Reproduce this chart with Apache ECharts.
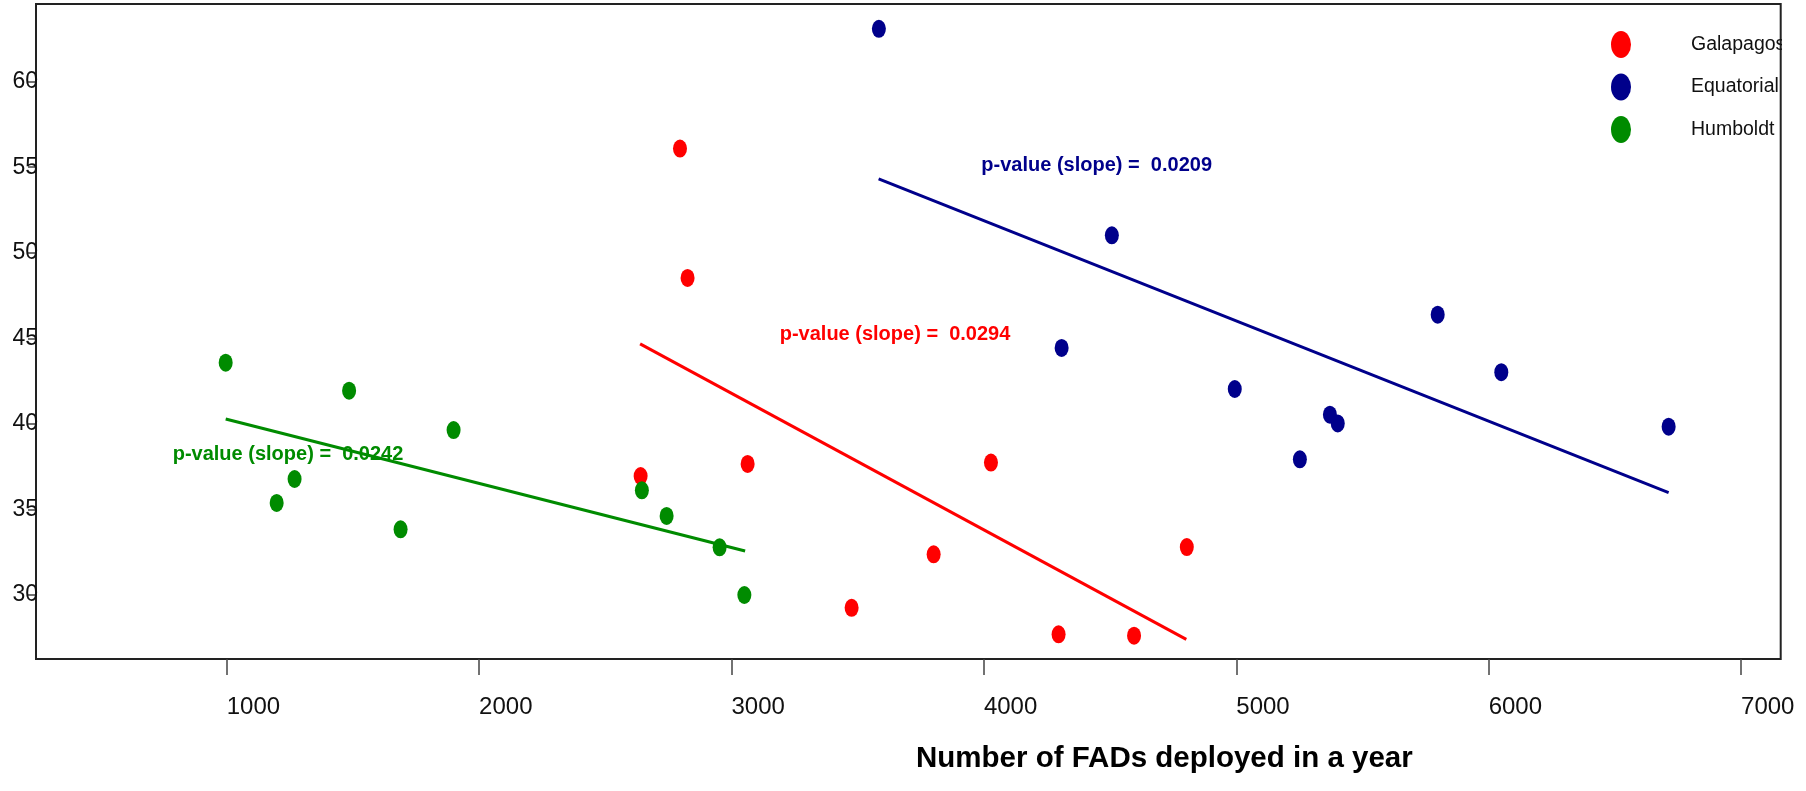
<!DOCTYPE html>
<html><head><meta charset="utf-8">
<script src="https://cdn.jsdelivr.net/npm/echarts@6/dist/echarts.min.js"></script>
<style>html,body{margin:0;padding:0;background:#fff}#c{width:1806px;height:791px}</style>
</head><body><div id="c"></div>
<script>
const regions = ['Galapagos', 'Equatorial', 'Humboldt'];
const colors = ['#FF0000', '#00008B', '#008B00'];

const galapagosX = [2796, 2826, 2640, 3064, 4028, 3801, 3476, 4296, 4595, 4804];
const galapagosY = [56.09, 48.53, 36.95, 37.66, 37.74, 32.38, 29.25, 27.70, 27.62, 32.80];
const equatorialX = [3584, 4507, 4308, 4994, 5252, 5371, 5402, 5798, 6050, 6713];
const equatorialY = [63.09, 51.02, 44.44, 42.04, 37.93, 40.54, 40.03, 46.38, 43.02, 39.84];
const humboldtX = [996, 1269, 1198, 1485, 1689, 1899, 2645, 2743, 2953, 3051];
const humboldtY = [43.58, 36.78, 35.38, 41.94, 33.84, 39.64, 36.12, 34.62, 32.79, 30.00];

const galapagosFitX = [2638, 4802];
const galapagosFitY = [44.68, 27.41];
const equatorialFitX = [3583, 6713];
const equatorialFitY = [54.32, 35.98];
const humboldtFitX = [996, 3054];
const humboldtFitY = [40.29, 32.57];

const pLabels = ['p-value (slope) =  0.0294', 'p-value (slope) =  0.0209', 'p-value (slope) =  0.0242'];
const pLabelX = [3648, 4447, 1243];
const pLabelY = [45.22, 55.13, 38.24];

const xTicks = [1000, 2000, 3000, 4000, 5000, 6000, 7000];
const yTicks = [30, 35, 40, 45, 50, 55, 60];
const xTitle = 'Number of FADs deployed in a year';

const FONT = "'Liberation Sans', Arial, sans-serif";
const zip = (a, b) => a.map((v, i) => [v, b[i]]);

const pointsX = [galapagosX, equatorialX, humboldtX];
const pointsY = [galapagosY, equatorialY, humboldtY];
const fitX = [galapagosFitX, equatorialFitX, humboldtFitX];
const fitY = [galapagosFitY, equatorialFitY, humboldtFitY];

const ELLIPSE = 'path://M10,0 A10,13.5 0 1,1 10,27 A10,13.5 0 1,1 10,0 Z';

const series = [];
regions.forEach((r, i) => {
  series.push({
    name: r, type: 'scatter', data: zip(pointsX[i], pointsY[i]),
    symbol: 'circle', symbolSize: [14, 18], symbolKeepAspect: false,
    itemStyle: { color: colors[i], opacity: 1 }, z: 2, silent: true
  });
});
regions.forEach((r, i) => {
  series.push({
    name: r + ' fit', type: 'line', data: zip(fitX[i], fitY[i]),
    showSymbol: false, symbol: 'none', lineStyle: { color: colors[i], width: 3 },
    z: 3, silent: true
  });
});
regions.forEach((r, i) => {
  series.push({
    name: r + ' p', type: 'scatter', data: [[pLabelX[i], pLabelY[i]]],
    symbolSize: 0, silent: true, z: 4,
    itemStyle: { color: colors[i], opacity: 1 },
    label: { show: true, position: 'inside', formatter: pLabels[i], color: colors[i], opacity: 1,
      textBorderWidth: 0, textBorderColor: 'transparent',
      fontFamily: FONT, fontWeight: 'bold', fontSize: 20 }
  });
});

const chart = echarts.init(document.getElementById('c'), null, { renderer: 'canvas' });
chart.setOption({
  animation: false,
  backgroundColor: '#fff',
  title: {
    text: xTitle, left: 916, top: 744, padding: 0,
    textStyle: { fontFamily: FONT, fontWeight: 'bold', fontSize: 29.5, color: '#000' }
  },
  legend: {
    data: regions, orient: 'vertical', left: 1606, top: 26,
    icon: ELLIPSE, itemWidth: 20, itemHeight: 27, itemGap: 15.5,
    textStyle: { fontFamily: FONT, fontSize: 19.5, color: '#111', padding: [0, 0, 0, 55] },
    selectedMode: false
  },
  grid: { left: 36, right: 25.3, top: 4, bottom: 132, show: true, borderColor: '#222', borderWidth: 2, containLabel: false },
  xAxis: {
    type: 'value', min: 244.5, max: 7157,
    splitLine: { show: false }, axisLine: { show: false },
    axisTick: { show: true, length: 16, lineStyle: { color: '#444', width: 1.5 }, customValues: xTicks },
    axisLabel: { customValues: xTicks, align: 'left', margin: 36, fontFamily: FONT, fontSize: 24, color: '#111',
      formatter: v => String(v) }
  },
  yAxis: {
    type: 'value', min: 26.26, max: 64.54,
    splitLine: { show: false }, axisLine: { show: false },
    axisTick: { show: true, length: 8, lineStyle: { color: '#444', width: 1.5 }, customValues: yTicks },
    axisLabel: { customValues: yTicks, margin: -2, fontFamily: FONT, fontSize: 23, color: '#111',
      formatter: v => String(v) }
  },
  graphic: [{
    type: 'rect', left: 1782, top: 0, shape: { width: 24, height: 660 },
    style: { fill: '#fff' }, z: 100, silent: true
  }],
  series: series
});
</script></body></html>
